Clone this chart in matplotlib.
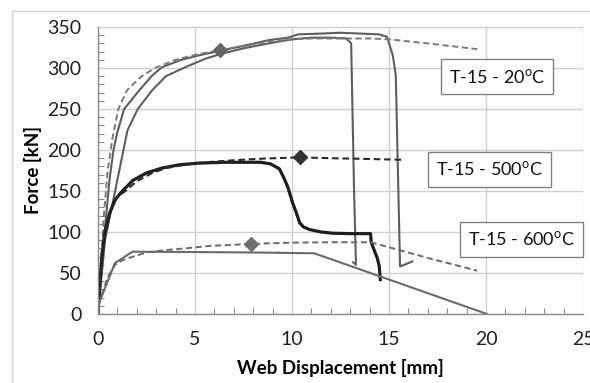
import matplotlib
matplotlib.use("Agg")
import matplotlib.pyplot as plt
from matplotlib.lines import Line2D
from matplotlib.ticker import MultipleLocator

plt.rcParams["font.family"] = ["Lato", "DejaVu Sans"]
plt.rcParams["mathtext.fontset"] = "custom"
plt.rcParams["mathtext.rm"] = "Lato"

# ---- T-15 at 20 C ----
t20_exp1_x = [0, 0.2, 0.4, 0.6, 0.8, 1.0, 1.35, 2.1, 2.8, 3.3, 4.3, 5.3, 6.3, 7.5, 8.8, 9.8,
              10.3, 11.5, 12.5, 13.5, 14.5, 14.9, 15.2, 15.35, 15.57, 16.2]
t20_exp1_f = [0, 60, 115, 165, 200, 222, 250, 272, 291, 301, 310, 316, 321, 327, 334, 337,
              341, 342, 343, 342, 341, 338, 315, 291, 58, 64]

t20_exp2_x = [0, 0.2, 0.36, 0.9, 1.52, 2.05, 2.8, 3.5, 4.5, 5.5, 6.3, 7.5, 8.8, 10, 11, 12,
              12.8, 13.05, 13.2, 13.3, 13.15]
t20_exp2_f = [0, 50, 90, 152, 224, 250, 273, 290, 301, 311, 317, 324, 330, 335, 337, 337,
              336, 330, 150, 60, 63]

t20_fe_x = [0, 0.15, 0.3, 0.5, 0.75, 1.05, 1.5, 2.2, 2.93, 4, 5, 6.3, 7.5, 8.8, 10, 11, 12,
            14, 15, 17, 19.55]
t20_fe_f = [0, 60, 120, 175, 215, 250, 273, 289, 300, 310, 316, 322, 327, 332, 335, 336, 336,
            336, 335, 330, 323]
t20_mark = (6.3, 322)

# ---- T-15 at 500 C ----
t500_exp_x = [0, 0.1, 0.2, 0.36, 0.6, 0.9, 1.3, 1.8, 2.5, 3.3, 4.2, 5.2, 6.5, 7.5, 8.4, 8.9,
              9.35, 9.6, 9.78, 10.04, 10.2, 10.4, 10.6, 10.9, 11.5, 12.1, 13, 14.05, 14.08,
              14.2, 14.4, 14.5, 14.55]
t500_exp_f = [0, 40, 70, 100, 123, 140, 151, 163, 172, 178, 182, 184, 185, 185, 185, 183,
              177, 165, 155, 135, 125, 111, 106, 103, 100, 98.5, 98, 98, 88,
              80, 68, 58, 42]

t500_fe_x = [0, 0.15, 0.31, 0.6, 1.0, 1.47, 2.0, 2.8, 3.5, 4.5, 5.5, 7, 8.5, 10.4, 12, 14, 15.8]
t500_fe_f = [0, 50, 100, 125, 143, 151, 162, 172, 178, 182, 185, 187.5, 189.5, 191, 190, 189, 188]
t500_mark = (10.4, 191)

# ---- T-15 at 600 C ----
t600_exp_x = [0, 0.05, 0.87, 1.78, 5, 8, 11.15, 20.05]
t600_exp_f = [0, 13, 62, 76, 75.5, 75, 74, 0]

t600_fe_x = [0, 0.05, 0.5, 0.87, 1.3, 1.82, 2.5, 3.5, 4.5, 5.76, 7.9, 10, 12, 14.06, 17.06, 19.55]
t600_fe_f = [0, 13, 45, 60, 66, 70, 75, 78, 80, 83, 85.5, 87, 87.5, 87.4, 68, 52.8]
t600_mark = (7.9, 85.5)

labels = ["T-15 - 20$^{\\mathrm{o}}$C", "T-15 - 500$^{\\mathrm{o}}$C", "T-15 - 600$^{\\mathrm{o}}$C"]

fig = plt.figure(figsize=(5.9, 3.83), dpi=100)
ax = fig.add_axes([0.1661, 0.1802, 0.822, 0.7493])

dash = (3.2, 1.8)
ax.plot(t20_exp1_x, t20_exp1_f, color="#5e5e5e", lw=1.5)
ax.plot(t20_exp2_x, t20_exp2_f, color="#5e5e5e", lw=1.5)
ax.plot(t20_fe_x, t20_fe_f, color="#7a7a7a", lw=1.4, dashes=dash)
ax.plot(*t20_mark, marker="D", ms=7, color="#666666", ls="none")

ax.plot(t500_exp_x, t500_exp_f, color="#1e1e1e", lw=2.3)
ax.plot(t500_fe_x, t500_fe_f, color="#2a2a2a", lw=1.5, dashes=dash)
ax.plot(*t500_mark, marker="D", ms=7, color="#333333", ls="none")

ax.plot(t600_exp_x, t600_exp_f, color="#6a6a6a", lw=1.5)
ax.plot(t600_fe_x, t600_fe_f, color="#6a6a6a", lw=1.4, dashes=dash)
ax.plot(*t600_mark, marker="D", ms=7, color="#707070", ls="none")

ax.set_xlim(0, 25)
ax.set_ylim(0, 350)
ax.xaxis.set_major_locator(MultipleLocator(5))
ax.yaxis.set_major_locator(MultipleLocator(50))
ax.xaxis.set_minor_locator(MultipleLocator(1))
ax.yaxis.set_minor_locator(MultipleLocator(10))
ax.grid(which="major", color="#cfcfcf", lw=1.0)
ax.set_axisbelow(True)
for s in ["top", "right"]:
    ax.spines[s].set_visible(False)
for s in ["left", "bottom"]:
    ax.spines[s].set_color("#8c8c8c")
    ax.spines[s].set_linewidth(1.0)
ax.tick_params(which="major", length=0, labelsize=14, colors="#222222")
ax.tick_params(axis="y", which="major", pad=12)
ax.tick_params(axis="x", which="major", pad=12)
ax.tick_params(which="minor", direction="in", length=4, color="#8c8c8c", width=0.8)

ax.set_xlabel("Web Displacement [mm]", fontsize=13.5, fontweight="bold")
ax.set_ylabel("Force [kN]", fontsize=13.5, fontweight="bold")
ax.xaxis.set_label_coords(0.5, -0.158)
ax.yaxis.set_label_coords(-0.115, 0.5)

box = dict(boxstyle="square,pad=0.45", fc="white", ec="#808080", lw=1.0)
for txt, (bx, by) in zip(labels, [(0.823, 0.827), (0.808, 0.5045), (0.873, 0.2606)]):
    ax.text(bx, by, txt, transform=ax.transAxes, ha="center", va="center",
            fontsize=13, color="#111111", bbox=box)

# chart-area frame
fig.add_artist(Line2D([12 / 590, 12 / 590], [0, 1 - 11 / 383], color="#d4d4d4", lw=1.0))
fig.add_artist(Line2D([12 / 590, 1], [1 - 11 / 383, 1 - 11 / 383], color="#d4d4d4", lw=1.0))

fig.savefig("out.png", dpi=100)
